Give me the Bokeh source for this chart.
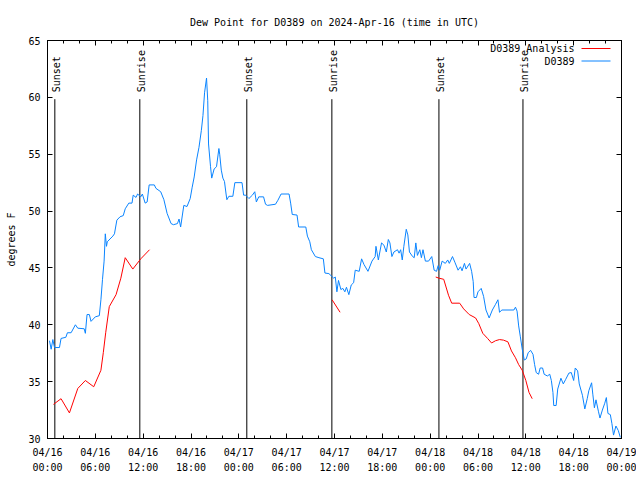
import math
from bokeh.plotting import figure
from bokeh.models import LinearAxis, FixedTicker, Range1d, Label, Arrow, ColumnDataSource
from bokeh.core.properties import value
from bokeh.embed import file_html
from bokeh.resources import INLINE

NAN = float("nan")

TITLE = "Dew Point for D0389 on 2024-Apr-16 (time in UTC)"
Y_LABEL = "degrees F"

# hours since 2024-04-16 00:00 UTC
X_TICKS = [0, 6, 12, 18, 24, 30, 36, 42, 48, 54, 60, 66, 72]
X_TICK_LABELS = ["04/16\n00:00", "04/16\n06:00", "04/16\n12:00", "04/16\n18:00",
                 "04/17\n00:00", "04/17\n06:00", "04/17\n12:00", "04/17\n18:00",
                 "04/18\n00:00", "04/18\n06:00", "04/18\n12:00", "04/18\n18:00",
                 "04/19\n00:00"]
X_MINOR = [h for h in range(0, 73, 2)]
Y_TICKS = [30, 35, 40, 45, 50, 55, 60, 65]

SUN_LABELS = ["Sunset", "Sunrise", "Sunset", "Sunrise", "Sunset", "Sunrise"]
SUN_HOURS = [0.92, 11.58, 25.0, 35.67, 49.1, 59.64]

OBS_HOURS = [0.25, 0.46, 0.67, 0.88, 1.5, 1.7, 2.3, 2.5, 2.96, 3.5, 3.8, 4.6, 4.75, 4.96, 5.25, 5.46,
             6.0, 6.5, 6.7, 6.9, 7.1, 7.25, 7.4, 7.5, 8.2, 8.4, 8.7, 9.1, 9.5, 9.75, 10.2, 10.6,
             10.75, 11.1, 11.3, 11.7, 11.9, 12.25, 12.5, 12.75, 13.4, 13.6, 14.2, 14.6, 15.0, 15.5,
             15.8, 16.3, 16.5, 16.7, 17.1, 17.5, 17.9, 18.15, 18.4, 18.7, 19.0, 19.3, 19.5, 19.7,
             19.95, 20.1, 20.2, 20.45, 20.6, 20.9, 21.2, 21.5, 21.6, 21.8, 22.0, 22.2, 22.4, 22.5,
             22.75, 23.25, 23.5, 24.4, 24.6, 24.85, 25.26, 25.7, 26.0, 26.2, 26.5, 27.1, 27.35,
             27.6, 28.6, 28.9, 29.3, 30.3, 30.5, 30.7, 31.3, 31.5, 32.4, 32.6, 32.9, 33.1, 33.6,
             34.05, 34.6, 34.8, 35.3, 35.9, 36.1, 36.3, 36.5, 36.8, 37.05, 37.3, 37.5, 37.8, 38.1,
             38.4, 38.6, 39.1, 39.4, 39.7, 40.2, 40.7, 41.1, 41.2, 41.5, 41.9, 42.2, 42.5, 42.75,
             42.95, 43.2, 43.45, 43.9, 44.1, 44.3, 44.5, 44.7, 45.0, 45.2, 45.4, 45.8, 46.0, 46.2,
             46.4, 46.7, 46.9, 47.1, 47.4, 47.8, 48.2, 48.5, 48.8, 49.0, 49.2, 49.5, 49.9, 50.2,
             50.4, 50.8, 51.1, 51.5, 51.8, 52.0, 52.3, 52.5, 52.95, 53.2, 53.4, 53.5, 53.8, 54.0,
             54.4, 54.7, 55.0, 55.4, 55.8, 56.2, 56.5, 56.7, 57.0, 58.5, 58.7, 58.9, 59.1, 59.3,
             59.55, 59.8, 60.05, 60.3, 60.6, 60.9, 61.1, 61.3, 61.6, 61.8, 62.1, 62.3, 62.7, 63.0,
             63.2, 63.4, 63.5, 63.8, 64.0, 64.4, 64.7, 65.0, 65.4, 65.7, 66.0, 66.2, 66.5, 66.7,
             67.1, 67.4, 67.7, 67.9, 68.25, 68.4, 68.6, 68.8, 69.1, 69.3, 69.6, 69.9, 70.1, 70.3,
             70.6, 70.8, 71.0, 71.3, 71.6, 71.85]
OBS_DEWPT = [38.6, 37.85, 38.7, 38.0, 38.0, 38.8, 38.9, 39.3, 39.3, 40.0, 39.7, 39.65, 39.25, 40.9, 40.9, 40.3,
             40.7, 40.8, 42.2, 44.0, 45.6, 48.0, 46.9, 47.3, 47.8, 48.0, 49.2, 49.5, 49.6, 50.2, 50.7, 50.7,
             51.4, 51.2, 51.5, 51.25, 51.5, 50.7, 50.8, 52.3, 52.3, 52.0, 51.7, 51.0, 49.8, 48.9,
             48.8, 48.9, 49.3, 48.6, 50.5, 50.4, 51.1, 52.1, 53.0, 54.5, 55.6, 57.1, 58.4, 60.4,
             61.7, 59.7, 55.9, 53.9, 52.9, 53.7, 53.9, 55.5, 55.0, 53.6, 52.9, 52.6, 51.5, 51.0,
             51.3, 51.3, 52.5, 52.5, 51.4, 51.4, 51.1, 51.4, 51.7, 50.8, 51.25, 51.25, 50.6,
             50.5, 50.6, 50.95, 51.5, 51.5, 50.7, 49.7, 49.65, 48.6, 48.6, 47.8, 47.3, 46.6, 46.0,
             45.9, 45.8, 44.55, 44.5, 44.1, 44.2, 42.9, 43.9, 43.1, 43.2, 42.9, 43.3, 42.65, 43.5,
             43.7, 44.8, 44.7, 45.8, 45.3, 44.7, 45.6, 46.0, 46.9, 45.7, 47.2, 47.0, 46.4, 47.5,
             47.2, 46.0, 46.4, 46.6, 46.3, 46.6, 45.7, 46.9, 48.4, 47.9, 46.4, 46.0, 45.9, 47.2,
             46.1, 46.6, 45.9, 46.6, 45.6, 45.6, 46.0, 44.8, 44.7, 45.2, 44.8, 45.6, 45.4, 45.7,
             45.4, 46.0, 45.5, 44.8, 45.1, 44.75, 45.4, 44.9, 45.4, 44.7, 43.8, 42.4, 42.4, 42.9,
             43.2, 42.5, 41.3, 40.6, 41.3, 41.8, 42.2, 41.1, 41.3, 41.3, 41.55, 41.2, 39.9, 39.0,
             37.85, 36.9, 37.0, 37.55, 37.75, 37.4, 36.5, 35.8, 35.65, 36.2, 36.2, 35.65, 35.5, 35.65,
             35.1, 34.05, 32.9, 32.9, 34.35, 35.3, 34.8, 35.2, 35.75, 35.8, 35.1, 36.2, 35.95, 34.8,
             33.8, 32.6, 33.5, 34.2, 34.9, 33.9, 32.7, 33.4, 32.4, 31.8, 32.5, 33.1, 33.6, 32.2,
             32.1, 31.3, 30.3, 31.1, 30.7, 30.1]

ANA_HOURS = [0.75, 1.7, 2.75, 3.8, 4.75, 5.8, 6.7, 7.0, 7.3, 7.75, 8.6, 9.2, 9.75, 10.7, 11.7, 12.8,
             NAN, 35.7, 36.7,
             NAN, 48.7, 49.1, 49.7, 50.3, 50.7, 51.7, 52.2, 52.9, 53.7, 54.1, 54.6, 55.2, 55.7,
             56.2, 56.7, 57.2, 57.75, 58.2, 58.7, 59.1, 59.55, 60.0, 60.4, 60.8]
ANA_DEWPT = [33.0, 33.5, 32.25, 34.4, 35.1, 34.55, 36.0, 37.55, 39.3, 41.6, 42.65, 44.1, 45.9, 44.9, 45.8, 46.6,
             NAN, 42.2, 41.1,
             NAN, 44.2, 44.1, 44.0, 42.6, 41.9, 41.9, 41.4, 40.9, 40.6, 40.1, 39.25, 38.8, 38.4,
             38.6, 38.7, 38.65, 38.5, 37.7, 37.1, 36.5, 36.0, 35.1, 34.05, 33.5]

SERIES_NAMES = ["D0389 Analysis", "D0389"]
SERIES_COLORS = ["#ff0000", "#0a84ff"]

FONT = "DejaVu Sans Mono"
FS = "10px"

p = figure(width=636, height=476, output_backend="svg", toolbar_location=None,
           x_range=Range1d(0, 72), y_range=Range1d(30, 65),
           min_border_left=47, min_border_right=15, min_border_top=40, min_border_bottom=36,
           x_axis_type=None, y_axis_type=None)
p.background_fill_color = "white"
p.border_fill_color = "white"
p.outline_line_color = "black"
p.xgrid.visible = False
p.ygrid.visible = False

p.title.text = TITLE
p.title.align = "center"
p.title.text_font = FONT
p.title.text_font_size = FS
p.title.text_font_style = "normal"
p.title.text_color = "black"
p.title.standoff = 26


def style_axis(ax, show_labels, ticks):
    ax.axis_line_color = "black"
    ax.major_tick_line_color = "black"
    ax.minor_tick_line_color = "black"
    ax.major_tick_in = 5
    ax.major_tick_out = 0
    ax.minor_tick_in = 3
    ax.minor_tick_out = 0
    ax.major_label_text_font = FONT
    ax.major_label_text_font_size = FS
    ax.major_label_text_color = "black"
    if not show_labels:
        ax.major_label_overrides = {t: "" for t in ticks}
        ax.major_label_standoff = 0


for loc in ["below", "above"]:
    ax = LinearAxis(ticker=FixedTicker(ticks=X_TICKS, minor_ticks=X_MINOR))
    style_axis(ax, loc == "below", X_TICKS)
    if loc == "below":
        ax.major_label_overrides = {t: lab for t, lab in zip(X_TICKS, X_TICK_LABELS)}
        ax.major_label_standoff = 8
        ax.major_label_text_line_height = 1.45
    p.add_layout(ax, loc)

for loc in ["left", "right"]:
    ax = LinearAxis(ticker=FixedTicker(ticks=Y_TICKS, minor_ticks=[]))
    style_axis(ax, loc == "left", Y_TICKS)
    if loc == "left":
        ax.major_label_standoff = 7
        ax.axis_label = Y_LABEL
        ax.axis_label_text_font = FONT
        ax.axis_label_text_font_size = FS
        ax.axis_label_text_font_style = "normal"
        ax.axis_label_text_color = "black"
        ax.axis_label_standoff = 8
    p.add_layout(ax, loc)

# sunrise / sunset markers
sun = ColumnDataSource(dict(x=SUN_HOURS, lab=SUN_LABELS,
                            y0=[30] * len(SUN_HOURS), y1=[59.84] * len(SUN_HOURS),
                            ty=[60.45] * len(SUN_HOURS)))
p.segment(x0="x", y0="y0", x1="x", y1="y1", source=sun, line_color="black", line_width=1)
p.text(x="x", y="ty", text="lab", source=sun, angle=math.pi / 2, x_offset=1.5,
       text_align="left", text_baseline="middle", text_font=value(FONT),
       text_font_size=value(FS), text_color="black")

# series
p.line(OBS_HOURS, OBS_DEWPT, line_color=SERIES_COLORS[1], line_width=1)
p.line(ANA_HOURS, ANA_DEWPT, line_color=SERIES_COLORS[0], line_width=1)

# gnuplot-style key (text, then sample line), frame-relative screen units
for i, (name, col) in enumerate(zip(SERIES_NAMES, SERIES_COLORS)):
    ys = 390 - i * 12.5
    p.add_layout(Label(x=527, y=ys, x_units="screen", y_units="screen", text=name,
                       text_align="right", text_baseline="middle", text_font=FONT,
                       text_font_size=FS, text_color="black"))
    p.add_layout(Arrow(end=None, x_start=534, y_start=ys, x_end=563, y_end=ys,
                       start_units="screen", end_units="screen",
                       line_color=col, line_width=1))

open("out.html", "w").write(file_html(p, INLINE))
